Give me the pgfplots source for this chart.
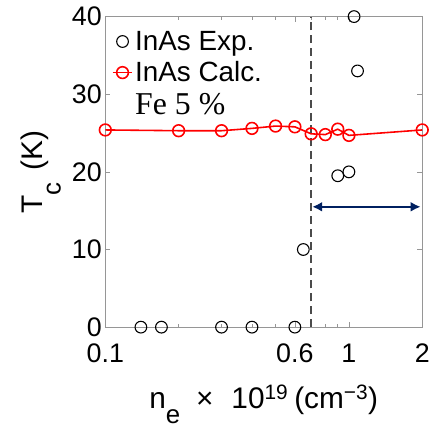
\documentclass[border=0pt]{standalone}
\usepackage{fontspec}
\setmainfont{Liberation Sans}
\newfontfamily\serifa{Liberation Serif}
\usepackage{pgfplots}
\pgfplotsset{compat=1.18}
\usetikzlibrary{arrows.meta}
\definecolor{navyarrow}{RGB}{0,32,96}
\definecolor{dashgray}{RGB}{75,75,75}
\definecolor{framegray}{RGB}{150,150,150}

\begin{document}
\begin{tikzpicture}
\begin{axis}[
  scale only axis, width=319pt, height=312.6pt,
  xmode=log, xmin=0.1, xmax=2, ymin=0, ymax=40,
  xtick={0.1,0.6,1,2}, xticklabels={0.1,0.6,1,2},
  minor xtick={0.2,0.3,0.4,0.5,0.7,0.8,0.9},
  ytick={0,10,20,30,40},
  tick align=inside, major tick length=5pt, minor tick length=3pt,
  axis line style={framegray, line width=0.6pt},
  every tick/.style={framegray, line width=0.6pt},
  tick label style={font=\fontsize{27}{30}\selectfont},
  /pgf/number format/assume math mode=true,
  xticklabel style={yshift=-13pt},
  label style={font=\fontsize{30}{34}\selectfont},
  xlabel={n\raisebox{-15pt}{\fontsize{26}{28}\selectfont e}\hspace{16pt}×\hspace{18pt}10\textsuperscript{19}\hspace{6pt}(cm\textsuperscript{−3})},
  xlabel style={at={(axis description cs:0.5,-0.262)}, anchor=base},
  ylabel={T\raisebox{-18pt}{\fontsize{26}{28}\selectfont c}\hspace{12pt}(K)},
  ylabel style={at={(axis description cs:-0.1975,0.5)}, anchor=base},
  legend style={at={(axis description cs:0.02,0.96)}, anchor=north west,
    draw=none, fill=none, font=\fontsize{28}{30}\selectfont,
    cells={anchor=west}, row sep=6pt, inner sep=0pt},
  legend image code/.code={\draw[mark repeat=2,mark phase=2,#1] plot coordinates {(0cm,0cm)(0.35cm,0cm)(0.7cm,0cm)};},
  clip=false,
]
\addplot[black, only marks, mark=o, mark size=5.9pt, line width=1.1pt] coordinates {
(0.14,0) (0.17,0) (0.3,0) (0.4,0) (0.6,0) (0.65,10)
(0.9,19.5) (1.0,20.0) (1.05,40) (1.085,33)
};
\addlegendentry{InAs Exp.}
\addplot[red, line width=1.6pt, mark=o, mark size=5.9pt] coordinates {
(0.1,25.4) (0.2,25.3) (0.3,25.3) (0.4,25.6) (0.5,25.9) (0.6,25.8)
(0.7,24.9) (0.8,24.8) (0.9,25.5) (1.0,24.7) (2.0,25.4)
};
\addlegendentry{InAs Calc.}
\addlegendimage{empty legend}
\addlegendentry{\serifa\fontsize{32}{34}\selectfont Fe 5 \%}
% boundary of the range and the arrow
\addplot[dashgray, line width=2.3pt, dash pattern=on 8pt off 5pt, forget plot] coordinates {(0.7,0) (0.7,40)};
\addplot[navyarrow, line width=2.2pt, {Latex[length=10pt,width=10pt]}-{Latex[length=10pt,width=10pt]}, forget plot] coordinates {(0.707,15.5) (1.97,15.5)};
\end{axis}
\path ([shift={(-106pt,-102.7pt)}]current axis.south west) rectangle ([shift={(8pt,16.7pt)}]current axis.north east);
\end{tikzpicture}
\end{document}
